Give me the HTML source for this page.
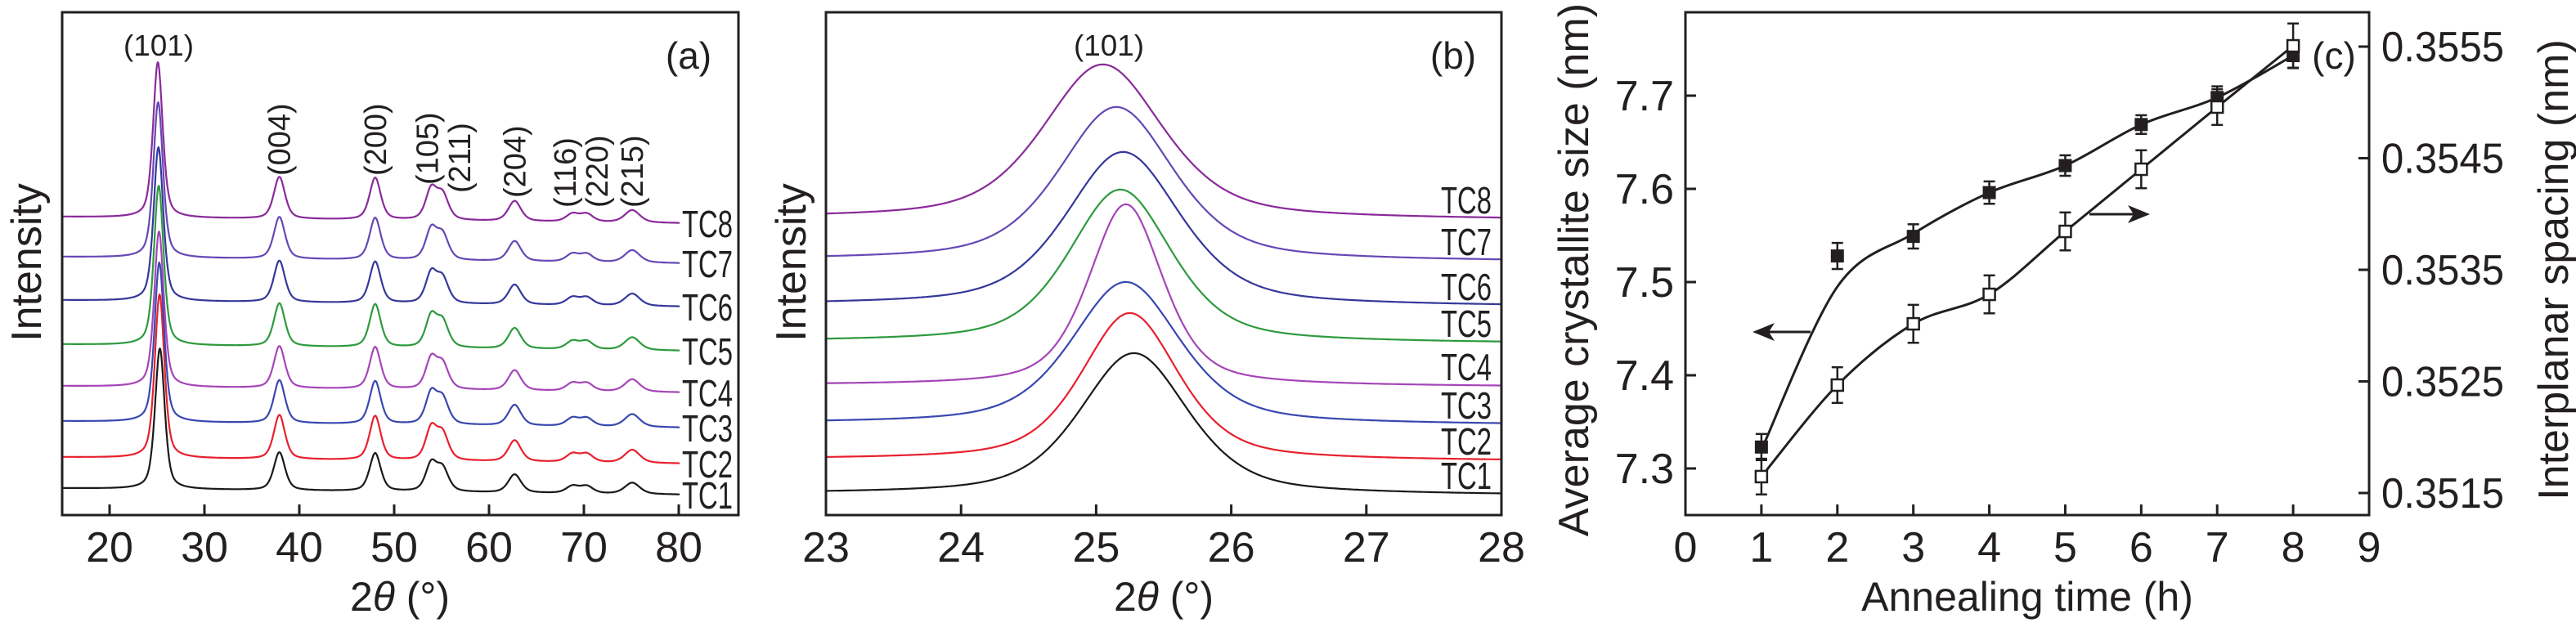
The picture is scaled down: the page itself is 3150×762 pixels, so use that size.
<!DOCTYPE html>
<html><head><meta charset="utf-8"><style>
html,body{margin:0;padding:0;background:#fff;}
svg{display:block;font-family:"Liberation Sans",sans-serif;}
</style></head><body>
<svg id="fig" width="3150" height="762" viewBox="0 0 3150 762" xmlns="http://www.w3.org/2000/svg">
<g id="pa"></g>
<g id="pb"></g>
<g id="pc"></g>
</svg>
<script>
// ---------- data ----------
const seriesNames = ["TC1","TC2","TC3","TC4","TC5","TC6","TC7","TC8"];
const seriesColors = ["#1a1a1a","#e8202e","#3848b0","#a545b8","#2e9a3e","#35389a","#6548b5","#8a2a9a"];
// panel (a)
const aPeakPos = [25.3, 37.9, 48.0, 53.9, 55.1, 62.7, 68.8, 70.3, 75.1];
const aPeakRel = [1.0, 0.27, 0.27, 0.19, 0.16, 0.13, 0.05, 0.05, 0.08];
const aPeakWidth = [1.2, 1.4, 1.4, 1.4, 1.5, 1.6, 1.6, 1.6, 1.9];
const aMainHeight = [172, 200, 195, 190, 195, 188, 190, 190];
const aOffsets = [0, 38, 82, 125, 176, 230, 283, 332];
const aTicks = [20,30,40,50,60,70,80];
const aLabels = ["(004)","(200)","(105)","(211)","(204)","(116)","(220)","(215)"];
const aLabelPos = [37.9, 48.0, 53.5, 56.9, 62.7, 68.0, 71.4, 75.1];
// panel (b)
const bCenter = [25.28, 25.25, 25.22, 25.22, 25.18, 25.2, 25.15, 25.05];
const bHeight = [173, 180, 174, 222, 187, 188, 188, 189];
const bFwhm = [0.95, 0.85, 0.95, 0.65, 0.9, 1.0, 1.0, 1.05];
const bOffsets = [0, 42, 86, 133, 186, 231, 286, 337];
const bTicks = [23,24,25,26,27,28];
// panel (c)
const cTime = [1,2,3,4,5,6,7,8];
const cSize = [7.323, 7.528, 7.549, 7.596, 7.625, 7.669, 7.698, 7.743];
const cSizeErr = [0.014, 0.014, 0.013, 0.012, 0.011, 0.01, 0.012, 0.013];
const cSizeFit = [7.32, 7.495, 7.552, 7.596, 7.625, 7.669, 7.698, 7.743];
const cSpacing = [0.351647, 0.352467, 0.353016, 0.35328, 0.353844, 0.354401, 0.354958, 0.355507];
const cSpacingErr = [0.00016, 0.00016, 0.00017, 0.00017, 0.00017, 0.00017, 0.00016, 0.0002];
const cXTicks = [0,1,2,3,4,5,6,7,8,9];
const cLeftTicks = [7.3,7.4,7.5,7.6,7.7];
const cRightTicks = [0.3515,0.3525,0.3535,0.3545,0.3555];

const NS="http://www.w3.org/2000/svg";
function mk(parent, tag, attrs, text){
  const e=document.createElementNS(NS,tag);
  for(const k in attrs) e.setAttribute(k,attrs[k]);
  if(text!==undefined) e.textContent=text;
  parent.appendChild(e); return e;
}
function pv(x,c,w){const d=(x-c)/(w/2);const L=1/(1+d*d);const G=Math.exp(-Math.LN2*d*d);return 0.5*L+0.5*G;}

// ---------- panel a ----------
const pa=document.getElementById('pa');
const aL=76,aR=903,aT=15,aB=630;
const ax=v=>134+(v-20)*11.6;
const aBase=605;
for(let s=0;s<8;s++){
  let d="";
  for(let x=15;x<=80.001;x+=0.04){
    let y=0;
    for(let p=0;p<aPeakPos.length;p++){
      let c=aPeakPos[p]; if(p===0) c=25.3-s*0.03;
      y+=aMainHeight[s]*aPeakRel[p]*pv(x,c,aPeakWidth[p]);
    }
    y+=(80-x)*0.12;
    const py=aBase-aOffsets[s]-y;
    d+=(d?"L":"M")+ax(x).toFixed(1)+","+py.toFixed(1);
  }
  d+="L"+(ax(80)+1)+","+(aBase-aOffsets[s]);
  const p=mk(pa,'path',{d:d,fill:'none',stroke:seriesColors[s],'stroke-width':2.2});
  
  
  const t=mk(pa,'text',{x:834,y:aBase-aOffsets[s]+17,'font-size':46,fill:'#231f20','textLength':62,'lengthAdjust':'spacingAndGlyphs'},seriesNames[s]);
  
  
}
for(let i=0;i<aLabels.length;i++){
  const x=ax(aLabelPos[i]);
  const yb=[215,215,226,236,242,254,254,254][i];
  const t=mk(pa,'text',{x:0,y:0,'font-size':38,fill:'#231f20',transform:`translate(${x+13},${yb}) rotate(-90)`},aLabels[i]);
  
  
}
mk(pa,'text',{x:194,y:68,'font-size':36,'text-anchor':'middle',fill:'#231f20','textLength':86,'lengthAdjust':'spacingAndGlyphs',},"(101)");
mk(pa,'text',{x:842,y:84,'font-size':46,'text-anchor':'middle',fill:'#231f20',},"(a)");
mk(pa,'rect',{x:aL,y:aT,width:aR-aL,height:aB-aT,fill:'none',stroke:'#231f20','stroke-width':3,});
for(const v of aTicks){
  mk(pa,'line',{x1:ax(v),x2:ax(v),y1:aB,y2:aB-13,stroke:'#231f20','stroke-width':3});
  const t=mk(pa,'text',{x:ax(v),y:687,'font-size':52,'text-anchor':'middle',fill:'#231f20'},String(v));
  
  
}
mk(pa,'text',{x:489,y:747,'font-size':50,'text-anchor':'middle',fill:'#231f20',}).innerHTML='2<tspan font-style="italic">θ</tspan> (°)';
mk(pa,'text',{x:0,y:0,'font-size':52,'text-anchor':'middle',fill:'#231f20',transform:'translate(50,321) rotate(-90)',},"Intensity");

// ---------- panel b ----------
const pb=document.getElementById('pb');
const bL=1010,bR=1836,bT=15,bB=630;
const bx=v=>bL+(v-23)*(bR-bL)/5;
const bBase=604;
for(let s=0;s<8;s++){
  let d="";
  for(let x=23;x<=28.0001;x+=0.01){
    const y=bHeight[s]*pv(x,bCenter[s],bFwhm[s])/pv(bCenter[s],bCenter[s],bFwhm[s]);
    const py=bBase-bOffsets[s]-y+ (x-23)*0.4;
    d+=(d?"L":"M")+bx(x).toFixed(1)+","+py.toFixed(1);
  }
  const p=mk(pb,'path',{d:d,fill:'none',stroke:seriesColors[s],'stroke-width':2.2});
  
  
  const t=mk(pb,'text',{x:1762,y:bBase-bOffsets[s]-6,'font-size':46,fill:'#231f20','textLength':62,'lengthAdjust':'spacingAndGlyphs'},seriesNames[s]);
  
  
}
mk(pb,'text',{x:1356,y:68,'font-size':36,'text-anchor':'middle',fill:'#231f20','textLength':86,'lengthAdjust':'spacingAndGlyphs',},"(101)");
mk(pb,'text',{x:1777,y:84,'font-size':46,'text-anchor':'middle',fill:'#231f20',},"(b)");
mk(pb,'rect',{x:bL,y:bT,width:bR-bL,height:bB-bT,fill:'none',stroke:'#231f20','stroke-width':3,});
for(const v of bTicks){
  mk(pb,'line',{x1:bx(v),x2:bx(v),y1:bB,y2:bB-13,stroke:'#231f20','stroke-width':3});
  const t=mk(pb,'text',{x:bx(v),y:687,'font-size':52,'text-anchor':'middle',fill:'#231f20'},String(v));
  
  
}
mk(pb,'text',{x:1423,y:747,'font-size':50,'text-anchor':'middle',fill:'#231f20',}).innerHTML='2<tspan font-style="italic">θ</tspan> (°)';
mk(pb,'text',{x:0,y:0,'font-size':52,'text-anchor':'middle',fill:'#231f20',transform:'translate(985,321) rotate(-90)',},"Intensity");

// ---------- panel c ----------
const pc=document.getElementById('pc');
const cL=2061,cR=2897,cT=15,cB=630;
const cx=v=>cL+v*(cR-cL)/9;
const cyL=v=>573-(v-7.3)*1140;
const cyR=v=>603-(v-0.3515)*136500;
function smooth(xs,ys){
  let d="M"+xs[0]+","+ys[0];
  for(let i=0;i<xs.length-1;i++){
    const x0=xs[Math.max(i-1,0)],y0=ys[Math.max(i-1,0)];
    const x1=xs[i],y1=ys[i],x2=xs[i+1],y2=ys[i+1];
    const x3=xs[Math.min(i+2,xs.length-1)],y3=ys[Math.min(i+2,xs.length-1)];
    d+=`C${x1+(x2-x0)/6},${y1+(y2-y0)/6} ${x2-(x3-x1)/6},${y2-(y3-y1)/6} ${x2},${y2}`;
  }
  return d;
}
mk(pc,'path',{d:smooth(cTime.map(cx),cSizeFit.map(cyL)),fill:'none',stroke:'#231f20','stroke-width':3,});
mk(pc,'path',{d:smooth(cTime.map(cx),cSpacing.map(cyR)),fill:'none',stroke:'#231f20','stroke-width':3,});
function errbar(x,y1,y2){
  mk(pc,'line',{x1:x,x2:x,y1:y1,y2:y2,stroke:'#231f20','stroke-width':2.5});
  mk(pc,'line',{x1:x-7,x2:x+7,y1:y1,y2:y1,stroke:'#231f20','stroke-width':2.5});
  mk(pc,'line',{x1:x-7,x2:x+7,y1:y2,y2:y2,stroke:'#231f20','stroke-width':2.5});
}
for(let i=0;i<cTime.length;i++){
  const x=cx(cTime[i]);
  errbar(x,cyL(cSize[i]+cSizeErr[i]),cyL(cSize[i]-cSizeErr[i]));
  const y=cyL(cSize[i]);
  const r=mk(pc,'rect',{x:x-8,y:y-8,width:16,height:16,fill:'#231f20'});
  
  
}
for(let i=0;i<cTime.length;i++){
  const x=cx(cTime[i]);
  errbar(x,cyR(cSpacing[i]+cSpacingErr[i]),cyR(cSpacing[i]-cSpacingErr[i]));
  const y=cyR(cSpacing[i]);
  const r=mk(pc,'rect',{x:x-7,y:y-7,width:14,height:14,fill:'#fff',stroke:'#231f20','stroke-width':2.5});
  
  
}
// arrows
mk(pc,'line',{x1:2214,y1:406,x2:2158,y2:406,stroke:'#231f20','stroke-width':3,});
mk(pc,'polygon',{points:'2143,406 2170,395 2163,406 2170,417',fill:'#231f20'});
mk(pc,'line',{x1:2555,y1:262,x2:2614,y2:262,stroke:'#231f20','stroke-width':3,});
mk(pc,'polygon',{points:'2629,262 2602,251 2609,262 2602,273',fill:'#231f20'});
mk(pc,'text',{x:2854,y:84,'font-size':46,'text-anchor':'middle',fill:'#231f20',},"(c)");
mk(pc,'rect',{x:cL,y:cT,width:cR-cL,height:cB-cT,fill:'none',stroke:'#231f20','stroke-width':3,});
for(const v of cXTicks){
  if(v>0&&v<9) mk(pc,'line',{x1:cx(v),x2:cx(v),y1:cB,y2:cB-13,stroke:'#231f20','stroke-width':3});
  const t=mk(pc,'text',{x:cx(v),y:687,'font-size':52,'text-anchor':'middle',fill:'#231f20'},String(v));
  
  
}
for(const v of cLeftTicks){
  mk(pc,'line',{x1:cL,x2:cL+13,y1:cyL(v),y2:cyL(v),stroke:'#231f20','stroke-width':3});
  const t=mk(pc,'text',{x:2047,y:cyL(v)+18,'font-size':52,'text-anchor':'end',fill:'#231f20'},v.toFixed(1));
  
  
}
for(const v of cRightTicks){
  mk(pc,'line',{x1:cR,x2:cR-13,y1:cyR(v),y2:cyR(v),stroke:'#231f20','stroke-width':3});
  const t=mk(pc,'text',{x:2912,y:cyR(v)+18,'font-size':52,fill:'#231f20','textLength':150,'lengthAdjust':'spacingAndGlyphs'},v.toFixed(4));
  
  
}
mk(pc,'text',{x:2479,y:747,'font-size':50,'text-anchor':'middle',fill:'#231f20',},"Annealing time (h)");
mk(pc,'text',{x:0,y:0,'font-size':52,'text-anchor':'middle',fill:'#231f20',transform:'translate(1942,330) rotate(-90)',},"Average crystallite size (nm)");
mk(pc,'text',{x:0,y:0,'font-size':52,'text-anchor':'middle',fill:'#231f20',transform:'translate(3140,330) rotate(-90)',},"Interplanar spacing (nm)");
</script>
</body></html>
